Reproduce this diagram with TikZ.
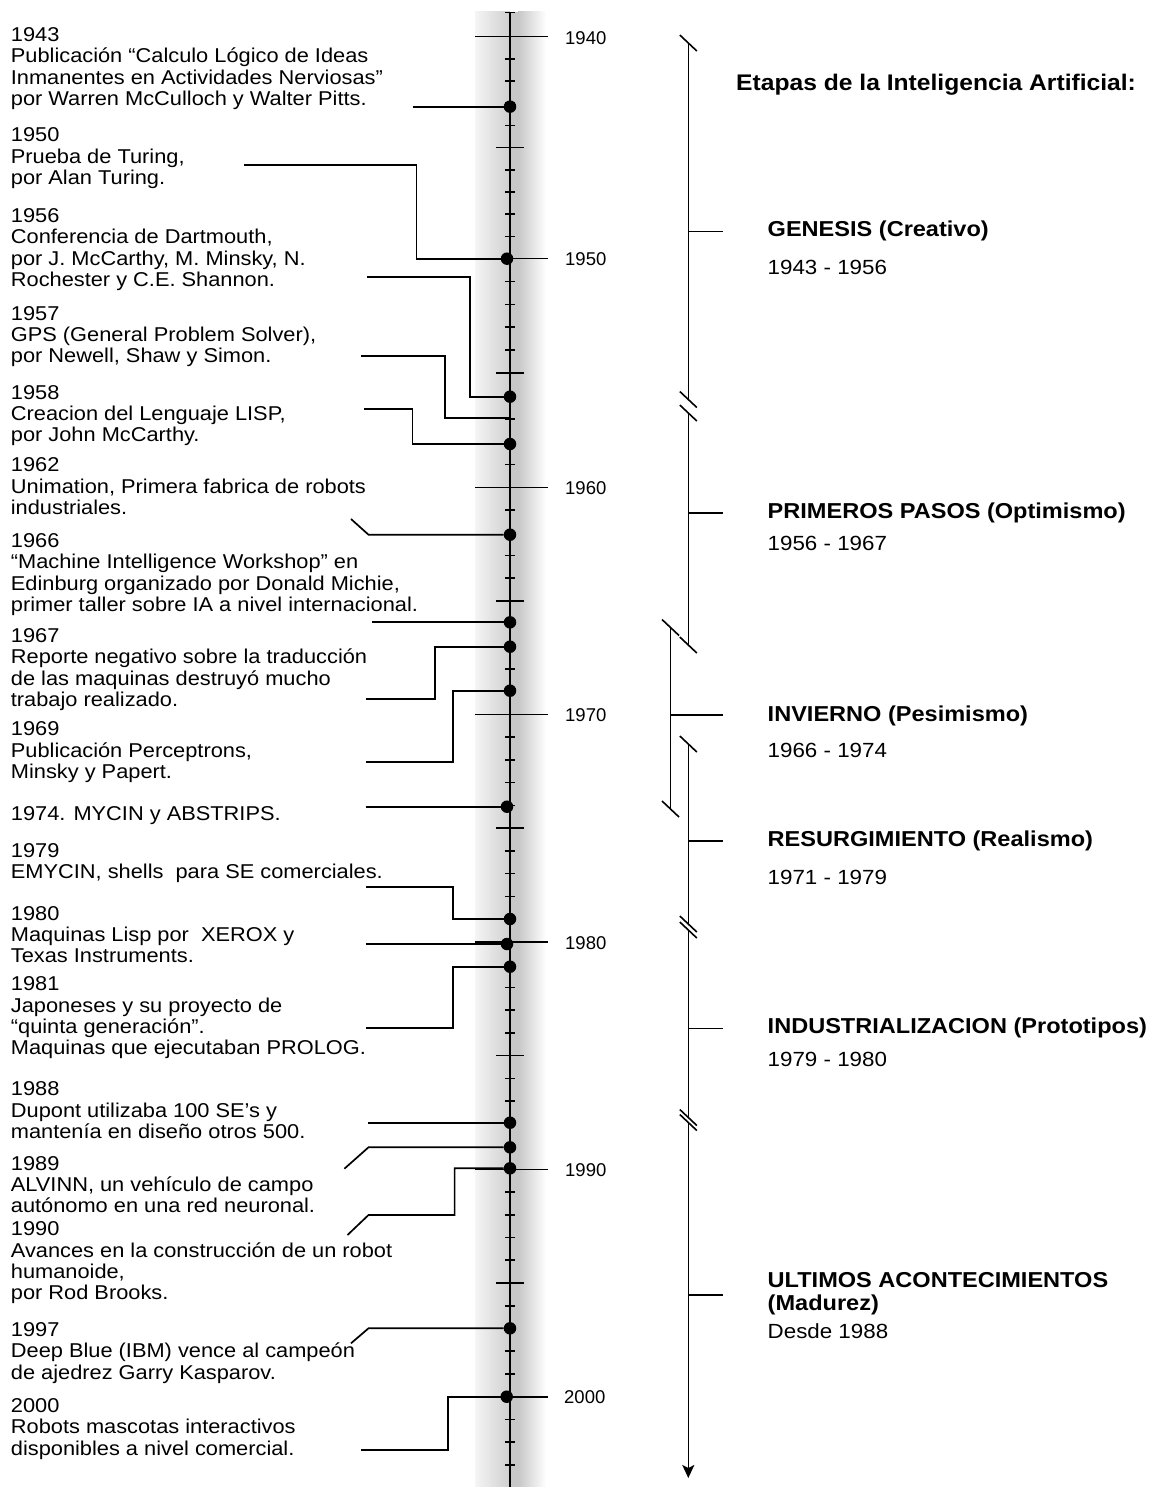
\documentclass[tikz,border=0pt]{standalone}
\usepackage{fontspec}
\setmainfont{Liberation Sans}[FakeStretch=1.09]
\newfontfamily\axisfont{Liberation Sans}
\usetikzlibrary{arrows.meta}

\begin{document}
\begin{tikzpicture}[x=1pt,y=-1pt,
  evt/.style={anchor=north west, inner sep=0pt, align=left, font=\fontsize{20}{21.3}\selectfont},
  stage/.style={anchor=base west, inner sep=0pt, font=\bfseries\fontsize{21.6}{23}\selectfont},
  span/.style={anchor=base west, inner sep=0pt, font=\fontsize{20.5}{22}\selectfont},
  dec/.style={anchor=west, inner sep=0pt, font=\axisfont\fontsize{18.5}{20}\selectfont},
  dot/.style={circle, fill=black, inner sep=0pt, minimum size=12.5pt},
  link/.style={line width=1.7pt},
  tick/.style={line width=1.6pt},
  bar/.style={line width=1.6pt},
  ]
\useasboundingbox (0,0) rectangle (1169,1487);

% ---------- shaded band behind the time axis ----------
\shade[left color=gray!8, right color=gray!38] (475,12) rectangle (510,1487);
\fill[gray!44] (510,12) rectangle (518,1487);
\shade[left color=gray!44, right color=white] (518,12) rectangle (546,1487);

% ---------- time axis ----------
\draw[line width=1.9pt] (510,12.7) -- (510,1487);
\draw[tick] (505,12.7) -- (515,12.7);
\foreach \ya/\yb in {36.7/258.7,258.7/487.3,487.3/714.3,714.3/942,942/1169.3,1169.3/1396.7}{
  \draw[tick] (475,\ya) -- (548,\ya);
  \foreach \i in {1,...,9}{
    \pgfmathsetmacro\yy{\ya+(\yb-\ya)*\i/10}
    \ifnum\i=5
      \draw[tick] (496,\yy) -- (524,\yy);
    \else
      \draw[tick] (505,\yy) -- (515,\yy);
    \fi
  }
}
\draw[tick] (475,1396.7) -- (548,1396.7);
\foreach \yy in {1419.4,1442.1,1464.8}{
  \draw[tick] (505,\yy) -- (515,\yy);
}

% decade labels
\node[dec] (y1940) at (565,38.2) {1940};
\node[dec] (y1950) at (565,259.5) {1950};
\node[dec] (y1960) at (565,488.3) {1960};
\node[dec] (y1970) at (565,715.3) {1970};
\node[dec] (y1980) at (565,943) {1980};
\node[dec] (y1990) at (565,1170.3) {1990};
\node[dec] (y2000) at (564,1396.7) {2000};

% ---------- events on the axis ----------
\node[dot] (d1943) at (510,106.7) {};
\node[dot] (d1950) at (507,258.7) {};
\node[dot] (d1956) at (510,396.7) {};
\coordinate (a1957) at (510,418.3);
\node[dot] (d1958) at (510,444) {};
\node[dot] (d1962) at (510,534.7) {};
\node[dot] (d1966) at (510,622.3) {};
\node[dot] (d1967) at (510,646.7) {};
\node[dot] (d1969) at (510,690.7) {};
\node[dot] (d1974) at (507,806.7) {};
\node[dot] (d1979) at (510,919) {};
\node[dot] (d1980) at (507,944) {};
\node[dot] (d1981) at (510,966.7) {};
\node[dot] (d1988) at (510,1122.7) {};
\node[dot] (d1989) at (510,1147.3) {};
\node[dot] (d1990) at (510,1168.3) {};
\node[dot] (d1997) at (510,1328.3) {};
\node[dot] (d2000) at (506.7,1396.7) {};

% free ends of the leader lines
\coordinate (c1943) at (412.6,106.7);
\coordinate (c1950) at (244,164.7);
\coordinate (c1956) at (366.6,277);
\coordinate (c1957) at (361.3,355.7);
\coordinate (c1958) at (364.3,409.3);
\coordinate (c1962) at (351,519);
\coordinate (c1966) at (372,622.3);
\coordinate (c1967) at (366,699.3);
\coordinate (c1969) at (366,762.3);
\coordinate (c1974) at (365.5,806.7);
\coordinate (c1979) at (366,887.3);
\coordinate (c1980) at (365.5,944);
\coordinate (c1981) at (366,1028);
\coordinate (c1988) at (368,1122.7);
\coordinate (c1989) at (344.4,1168.7);
\coordinate (c1990) at (347.5,1235);
\coordinate (c1997) at (351,1343.3);
\coordinate (c2000) at (361.3,1450);

% leader lines
\draw[link] (c1943) -- (d1943);
\draw[link] (c1950) -- ++(172.4,0) |- (d1950);
\draw[link] (c1956) -- ++(103.4,0) |- (d1956);
\draw[link] (c1957) -- ++(83.7,0) |- (a1957);
\draw[link] (c1958) -- ++(48.3,0) |- (d1958);
\draw[link] (c1962) -- ++(17.5,15.7) -- (d1962);
\draw[link] (c1966) -- (d1966);
\draw[link] (c1967) -- ++(69,0) |- (d1967);
\draw[link] (c1969) -- ++(86.7,0) |- (d1969);
\draw[link] (c1974) -- (d1974);
\draw[link] (c1979) -- ++(86.7,0) |- (d1979);
\draw[link] (c1980) -- (d1980);
\draw[link] (c1981) -- ++(86.7,0) |- (d1981);
\draw[link] (c1988) -- (d1988);
\draw[link] (c1989) -- ++(24.1,-21.4) -- (d1989);
\draw[link] (c1990) -- ++(21,-20) -- ++(86.1,0) |- (d1990);
\draw[link] (c1997) -- ++(17.5,-15) -- (d1997);
\draw[link] (c2000) -- ++(86.5,0) |- (d2000);

% ---------- event texts ----------
\node[evt] (t1943) at (10.7,27.3) {1943\\Publicación “Calculo Lógico de Ideas\\Inmanentes en Actividades Nerviosas”\\por Warren McCulloch y Walter Pitts.};
\node[evt] (t1950) at (10.7,127.7) {1950\\Prueba de Turing,\\por Alan Turing.};
\node[evt] (t1956) at (10.7,208.3) {1956\\Conferencia de Dartmouth,\\por J. McCarthy, M. Minsky, N.\\Rochester y C.E. Shannon.};
\node[evt] (t1957) at (10.7,306) {1957\\GPS (General Problem Solver),\\por Newell, Shaw y Simon.};
\node[evt] (t1958) at (10.7,385) {1958\\Creacion del Lenguaje LISP,\\por John McCarthy.};
\node[evt] (t1962) at (10.7,457.7) {1962\\Unimation, Primera fabrica de robots\\industriales.};
\node[evt] (t1966) at (10.7,533.3) {1966\\“Machine Intelligence Workshop” en\\Edinburg organizado por Donald Michie,\\primer taller sobre IA a nivel internacional.};
\node[evt] (t1967) at (10.7,628.3) {1967\\Reporte negativo sobre la traducción\\de las maquinas destruyó mucho\\trabajo realizado.};
\node[evt] (t1969) at (10.7,721.7) {1969\\Publicación Perceptrons,\\Minsky y Papert.};
\node[evt] (t1974) at (10.7,806.7) {1974. MYCIN y ABSTRIPS.};
\node[evt] (t1979) at (10.7,843.3) {1979\\EMYCIN, shells\ \ para SE comerciales.};
\node[evt] (t1980) at (10.7,906) {1980\\Maquinas Lisp por\ \ XEROX y\\Texas Instruments.};
\node[evt] (t1981) at (10.7,976.7) {1981\\Japoneses y su proyecto de\\“quinta generación”.\\Maquinas que ejecutaban PROLOG.};
\node[evt] (t1988) at (10.7,1081.7) {1988\\Dupont utilizaba 100 SE’s y\\mantenía en diseño otros 500.};
\node[evt] (t1989) at (10.7,1156) {1989\\ALVINN, un vehículo de campo\\autónomo en una red neuronal.};
\node[evt] (t1990) at (10.7,1221.7) {1990\\Avances en la construcción de un robot\\humanoide,\\por Rod Brooks.};
\node[evt] (t1997) at (10.7,1322.3) {1997\\Deep Blue (IBM) vence al campeón\\de ajedrez Garry Kasparov.};
\node[evt] (t2000) at (10.7,1398.3) {2000\\Robots mascotas interactivos\\disponibles a nivel comercial.};

% ---------- stages of AI (right column) ----------
\coordinate (gT) at (688.3,43);    \coordinate (gB) at (688.3,399.5);
\coordinate (pT) at (688.3,413);   \coordinate (pB) at (688.3,645);
\coordinate (iT) at (670.5,627.5); \coordinate (iB) at (670.5,809);
\coordinate (rT) at (688.3,744);   \coordinate (rB) at (688.3,924);
\coordinate (nT) at (688.3,930);   \coordinate (nB) at (688.3,1117.5);
\coordinate (uT) at (688.3,1122.5);\coordinate (uB) at (688.3,1478);

\draw[bar] (gT) -- (gB);
\draw[bar] (pT) -- (pB);
\draw[bar] (iT) -- (iB);
\draw[bar] (rT) -- (rB);
\draw[bar] (nT) -- (nB);
\draw[bar, -{Stealth[length=13pt,width=12pt,inset=3pt]}] (uT) -- (uB);

% break marks at the ends of each stage
\foreach \p in {gT,gB,pT,pB,iT,iB,rT,rB,nT,nB,uT}{
  \draw[bar] (\p) ++(-8.5,-8) -- ++(17,16);
}

% stage ticks
\draw[bar] (688.3,231.7) -- ++(34.4,0);
\draw[bar] (688.3,512.7) -- ++(34.4,0);
\draw[bar] (670.5,715) -- ++(52.2,0);
\draw[bar] (688.3,840.7) -- ++(34.4,0);
\draw[bar] (688.3,1028.3) -- ++(34.4,0);
\draw[bar] (688.3,1294.7) -- ++(34.4,0);

% stage texts
\node[stage, font=\bfseries\fontsize{22.6}{24}\selectfont] (title) at (736,90.7) {Etapas de la Inteligencia Artificial:};
\node[stage] (sGen) at (767.5,236.7) {GENESIS (Creativo)};
\node[span] (pGen) at (767.5,275) {1943 - 1956};
\node[stage] (sPri) at (767.5,518.3) {PRIMEROS PASOS (Optimismo)};
\node[span] (pPri) at (767.5,550) {1956 - 1967};
\node[stage] (sInv) at (767.5,721) {INVIERNO (Pesimismo)};
\node[span] (pInv) at (767.5,757.3) {1966 - 1974};
\node[stage] (sRes) at (767.5,846) {RESURGIMIENTO (Realismo)};
\node[span] (pRes) at (767.5,884) {1971 - 1979};
\node[stage] (sInd) at (767.5,1033.3) {INDUSTRIALIZACION (Prototipos)};
\node[span] (pInd) at (767.5,1066) {1979 - 1980};
\node[stage] (sUlt) at (767.5,1287) {ULTIMOS ACONTECIMIENTOS};
\node[stage] (sUlt2) at (767.5,1310) {(Madurez)};
\node[span] (pUlt) at (767.5,1338) {Desde 1988};
\end{tikzpicture}
\end{document}
